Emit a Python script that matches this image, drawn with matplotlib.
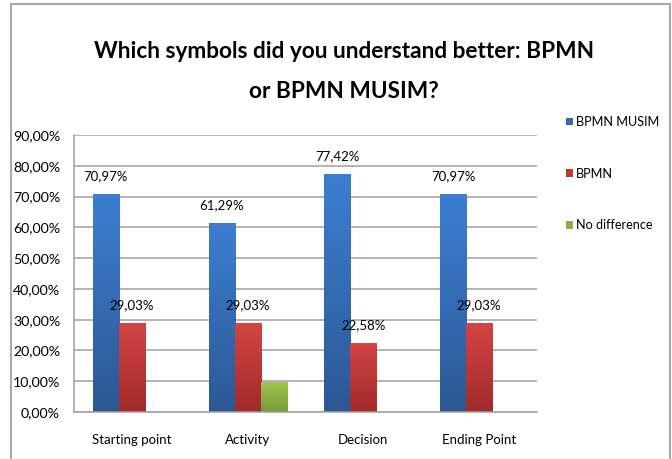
import matplotlib
matplotlib.use("Agg")
import matplotlib.pyplot as plt
import numpy as np
from matplotlib.patches import Rectangle
from matplotlib.colors import LinearSegmentedColormap
from matplotlib.textpath import TextPath
from matplotlib.font_manager import FontProperties

categories = ["Starting point", "Activity", "Decision", "Ending Point"]
series_names = ["BPMN MUSIM", "BPMN", "No difference"]
bpmn_musim = [70.97, 61.29, 77.42, 70.97]
bpmn = [29.03, 29.03, 22.58, 29.03]
no_difference = [0.0, 9.68, 0.0, 0.0]
yticks = [0, 10, 20, 30, 40, 50, 60, 70, 80, 90]
title_lines = ["Which symbols did you understand better: BPMN", "or BPMN MUSIM?"]

series = [bpmn_musim, bpmn, no_difference]
grad_colors = [("#3D7ED2", "#2B5894"), ("#D44444", "#A12A2A"), ("#9FC44C", "#789A38")]
mid_colors = ["#3469B4", "#BE3838", "#8CB043"]
show_labels = [True, True, False]

FONT = ["Lato", "DejaVu Sans"]
plt.rcParams["font.family"] = FONT


def fit_size(text, target_px, weight="normal"):
    fp = FontProperties(family=FONT[0], weight=weight, size=10)
    w = TextPath((0, 0), text, prop=fp).get_extents().width
    px_per_pt = 100 / 72
    return 10 * target_px / (w * px_per_pt)


fs_title = fit_size(title_lines[0], 498, "bold")
fs_tick = fit_size("90,00%", 46)
fs_cat = fit_size("Starting point", 79)
fs_leg = fit_size("BPMN MUSIM", 81)
fs_lab = fit_size("70,97%", 43)

W, H = 672, 459
fig = plt.figure(figsize=(W / 100, H / 100), dpi=100)
fig.patch.set_facecolor("white")

fig.patches.append(Rectangle((11 / W, -0.02), (670 - 11) / W, (459 - 4) / H + 0.02,
                             transform=fig.transFigure, fill=False,
                             edgecolor="#A8A8A8", linewidth=1.5))

ax = fig.add_axes([74 / W, (H - 412) / H, (537 - 74) / W, (412 - 135) / H])

x = np.arange(len(categories))
width = 0.225
offsets = [-width, 0, width]

ax.set_axisbelow(True)
ax.yaxis.grid(True, color="#A0A0A0", linewidth=1.1)
ax.set_yticks(yticks)
ax.set_yticklabels([f"{v:.2f}".replace(".", ",") + "%" for v in yticks], fontsize=fs_tick)
ax.set_xticks(x)
ax.set_xticklabels(categories, fontsize=fs_cat)
ax.tick_params(axis="y", length=0, pad=10)
ax.tick_params(axis="x", length=0, pad=16)
for s in ["top", "right"]:
    ax.spines[s].set_visible(False)
for s in ["left", "bottom"]:
    ax.spines[s].set_color("#A0A0A0")
    ax.spines[s].set_linewidth(1.1)

grad = np.linspace(1, 0, 256).reshape(-1, 1)
handles = []
for i, (vals, name) in enumerate(zip(series, series_names)):
    bars = ax.bar(x + offsets[i], vals, width, color=mid_colors[i], label=name,
                  edgecolor="none", zorder=2)
    cmap = LinearSegmentedColormap.from_list(f"g{i}", [grad_colors[i][1], grad_colors[i][0]])
    for b, v in zip(bars, vals):
        if v <= 0:
            continue
        bx, by = b.get_x(), b.get_y()
        im = ax.imshow(grad, cmap=cmap, aspect="auto", zorder=2.5,
                       extent=[bx, bx + b.get_width(), by, by + b.get_height()],
                       origin="upper")
        im.set_clip_path(b)
        if show_labels[i]:
            ax.annotate(f"{v:.2f}".replace(".", ",") + "%",
                        (bx + b.get_width() / 2, v), xytext=(0, 8.5),
                        textcoords="offset points", ha="center", va="bottom",
                        fontsize=fs_lab, zorder=4)
    handles.append(bars)

ax.set_xlim(-0.5, len(categories) - 0.5)
ax.set_ylim(0, 90)

fig.legend(handles=handles, labels=series_names, loc="upper left",
           bbox_to_anchor=(566 / W, (H - 116) / H), frameon=False,
           fontsize=fs_leg, handlelength=0.55, handleheight=0.55,
           handletextpad=0.25, labelspacing=3.15, borderaxespad=0, borderpad=0)

fig.text(344 / W, (H - 51) / H, title_lines[0], ha="center", va="center",
         fontsize=fs_title, fontweight="bold")
fig.text(344 / W, (H - 91) / H, title_lines[1], ha="center", va="center",
         fontsize=fs_title, fontweight="bold")

fig.savefig("out.png", dpi=100)
